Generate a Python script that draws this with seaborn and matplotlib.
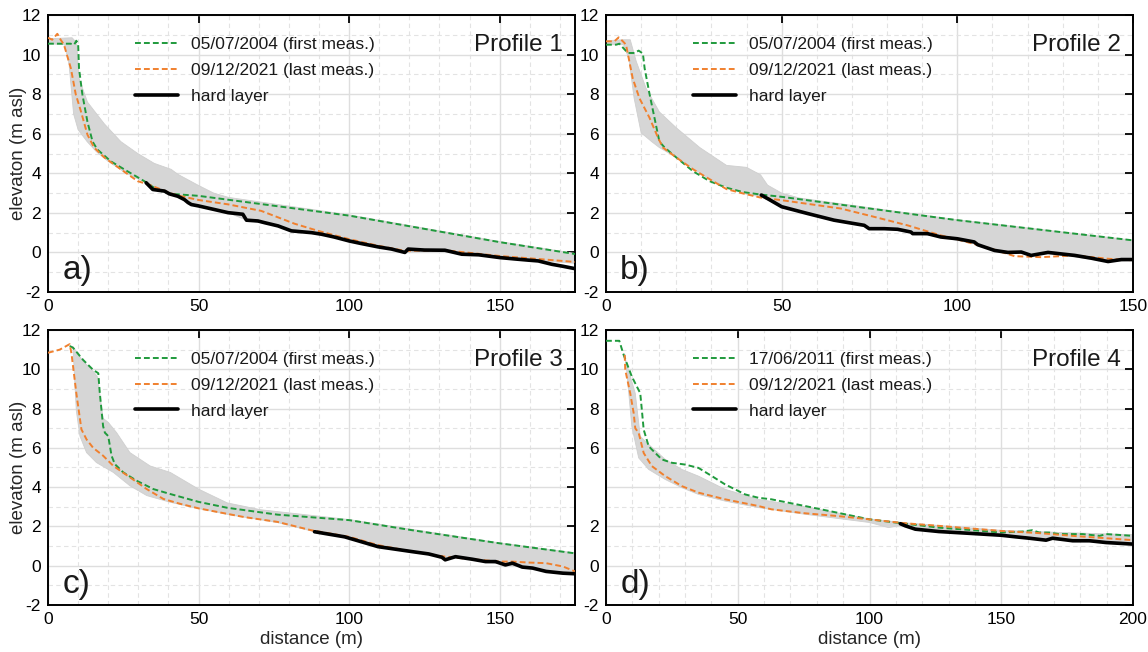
import numpy as np
import pandas as pd
import matplotlib
matplotlib.use("Agg")
import matplotlib.pyplot as plt
import seaborn as sns

# ---------------- data ----------------
# Profile 1
p1_first_x = [0, 7.5, 8.7, 9.4, 10.0, 10.3, 11.4, 13.1, 14.8, 16.4, 20.9, 26.4, 32, 36.4, 40.9, 50, 100, 131, 150, 175]
p1_first_y = [10.55, 10.55, 10.5, 10.7, 10.55, 9.3, 8.0, 6.6, 5.6, 5.2, 4.6, 4.1, 3.6, 3.15, 2.96, 2.86, 1.86, 1.03, 0.52, -0.08]
p1_last_x = [0, 1.4, 3.1, 4.2, 5.3, 7.6, 9.2, 10.9, 13.1, 15.3, 18.7, 24.2, 29.8, 33.1, 40.9, 43.1, 50, 59.8,
             70.8, 81.9, 89.7, 100, 109.6, 118.5, 131.8, 150, 175]
p1_last_y = [10.85, 10.75, 11.05, 10.75, 10.5, 9.3, 8.0, 7.15, 5.95, 5.3, 4.8, 4.2, 3.6, 3.45, 2.98, 2.88, 2.65, 2.43,
             2.1, 1.45, 1.09, 0.67, 0.34, 0.08, 0.11, -0.18, -0.48]
p1_hard_x = [32.6, 34.8, 38.7, 40.3, 43.1, 45.3, 46.5, 47.6, 50, 59.8, 64.7, 65.9, 69.7, 72, 76.4, 80.8, 87.5, 90.8,
             95, 100, 104, 109.6, 114.1, 118.5, 119.6, 125, 131.8, 137.4, 143, 150, 155, 159.5, 162.8, 167.3, 171, 175]
p1_hard_y = [3.52, 3.18, 3.1, 2.96, 2.84, 2.67, 2.52, 2.42, 2.35, 2.01, 1.93, 1.63, 1.59, 1.5, 1.34, 1.09, 1.0, 0.92,
             0.78, 0.58, 0.45, 0.28, 0.17, 0.0, 0.17, 0.12, 0.11, -0.09, -0.12, -0.26, -0.33, -0.39, -0.43, -0.6, -0.7, -0.82]
p1_up_x = [0, 8, 9.5, 10.3, 13.1, 18.7, 24.2, 29.8, 35.3, 40.9, 43.1, 49.8, 55, 60, 100, 150, 175]
p1_up_y = [10.8, 10.85, 10.6, 8.8, 7.6, 6.5, 5.6, 5.0, 4.5, 4.2, 3.95, 3.4, 3.0, 2.78, 1.9, 0.55, -0.05]
p1_lo_x = [0, 5.5, 7, 8.5, 10, 13, 16, 20, 26, 32.6, 40.3, 45.3, 50, 59.8, 65.9, 76.4, 87.5, 100, 109.6, 118.5,
           131.8, 150, 162.8, 175]
p1_lo_y = [10.55, 10.5, 9.5, 7.0, 6.2, 5.6, 5.1, 4.6, 4.0, 3.52, 2.96, 2.67, 2.35, 2.01, 1.63, 1.34, 1.0, 0.58, 0.28,
           0.0, 0.11, -0.22, -0.42, -0.55]

# Profile 2
p2_first_x = [0, 2.9, 3.8, 6.2, 8.1, 9.3, 10.5, 11, 12.4, 13.8, 15.2, 16.7, 20, 24.8, 29.5, 34.3, 39, 43.8, 50, 100, 150]
p2_first_y = [10.5, 10.5, 10.55, 10.08, 10.08, 10.2, 10.05, 9.3, 8.0, 6.8, 5.6, 5.3, 4.8, 4.1, 3.6, 3.27, 3.05, 2.93,
              2.81, 1.63, 0.61]
p2_last_x = [0, 2.4, 3.6, 4.8, 5.7, 7.6, 9.5, 12.4, 14.8, 16.2, 20, 24.8, 29.5, 34.3, 39, 43.8, 50, 66.8, 76.3, 85.8,
             95.3, 100, 109.6, 116.3, 123.9, 133.4, 142.9, 150]
p2_last_y = [10.67, 10.67, 10.87, 10.67, 10.5, 8.8, 7.8, 6.8, 5.8, 5.3, 4.8, 4.2, 3.7, 3.2, 2.98, 2.78, 2.64, 2.22, 1.8,
             1.37, 0.86, 0.66, 0.19, -0.19, -0.24, -0.15, -0.32, -0.4]
p2_hard_x = [44.2, 45.9, 50, 57.3, 64.9, 73.5, 74.9, 79.2, 83, 86.8, 87.3, 91.5, 95.3, 100, 104.8, 105.8, 110.6, 114.4,
             118.2, 121, 125.8, 133.4, 138.1, 142.9, 146.7, 150]
p2_hard_y = [2.9, 2.73, 2.31, 1.97, 1.63, 1.37, 1.2, 1.2, 1.17, 1.03, 0.95, 0.95, 0.78, 0.69, 0.53, 0.39, 0.1, 0.0,
             0.02, -0.15, 0.0, -0.15, -0.29, -0.46, -0.36, -0.36]
p2_up_x = [0, 5, 6.9, 8.6, 11.4, 15.2, 20, 26.7, 34.3, 40, 44, 46, 50, 55, 100, 150]
p2_up_y = [10.7, 10.75, 10.75, 9.66, 8.3, 7.1, 6.3, 5.3, 4.4, 4.3, 3.92, 3.4, 3.0, 2.75, 1.65, 0.62]
p2_lo_x = [0, 5, 6.5, 8, 10, 13, 15.2, 20, 29.5, 39, 44.2, 50, 64.9, 79.2, 95.3, 105.8, 114.4, 125.8, 142.9, 150]
p2_lo_y = [10.5, 10.5, 9.8, 7.8, 6.05, 5.6, 5.3, 4.8, 3.7, 2.98, 2.8, 2.31, 1.63, 1.2, 0.78, 0.39, 0.0, -0.05, -0.46, -0.4]

# Profile 3
p3_first_x = [7.2, 8.3, 11.7, 15, 16.7, 17.2, 18.3, 18.9, 20, 21.1, 22.2, 25, 29.4, 35, 40.6, 50, 59.5, 76.2, 100,
              120.8, 150, 175]
p3_first_y = [11.18, 11.1, 10.47, 9.97, 9.8, 8.79, 7.1, 6.77, 6.6, 5.6, 5.17, 4.75, 4.33, 3.9, 3.65, 3.25, 2.95, 2.6,
              2.32, 1.81, 1.14, 0.63]
p3_last_x = [0, 3.9, 7.2, 7.8, 9.4, 11.1, 12.8, 15, 18.3, 21.7, 27.2, 32.8, 38.3, 43.9, 50, 65, 76.2, 87.3, 100, 109.6,
             120.8, 131.9, 143, 150, 154.2, 159.8, 165.4, 171, 175]
p3_last_y = [10.84, 11.0, 11.28, 10.8, 8.79, 6.94, 6.43, 6.0, 5.6, 5.08, 4.5, 3.9, 3.4, 3.15, 2.92, 2.48, 2.23, 1.81,
             1.47, 1.05, 0.72, 0.46, 0.3, 0.21, 0.21, 0.16, 0.13, -0.04, -0.29]
p3_hard_x = [88.5, 98.5, 109.6, 120.8, 126.4, 130.8, 131.9, 135.3, 140.9, 145.3, 148.6, 151.9, 154.2, 157.5, 160.9,
             165.4, 171, 175]
p3_hard_y = [1.73, 1.47, 0.97, 0.72, 0.6, 0.43, 0.3, 0.46, 0.33, 0.21, 0.21, 0.04, 0.13, -0.07, -0.12, -0.29, -0.38, -0.41]
p3_up_x = [7.2, 8.3, 11.7, 15, 16.5, 17.5, 18.3, 20, 22.8, 27.2, 33.9, 40.6, 50, 59.5, 70.6, 100, 150, 175]
p3_up_y = [11.2, 11.15, 10.4, 9.9, 9.6, 8.4, 7.5, 7.3, 6.77, 5.76, 5.08, 4.75, 3.9, 3.2, 2.85, 2.35, 1.16, 0.65]
p3_lo_x = [7.2, 8.3, 9.4, 10.6, 12.8, 16.1, 21.7, 27.2, 32.8, 40.6, 49.4, 60, 76.2, 88.5, 98.5, 109.6, 120.8, 130.8,
           140.9, 151.9, 160.9, 171, 175]
p3_lo_y = [11.2, 11.1, 7.9, 6.6, 5.76, 5.25, 4.75, 4.07, 3.57, 3.23, 2.93, 2.6, 2.2, 1.73, 1.47, 0.97, 0.72, 0.43,
           0.33, 0.04, -0.12, -0.38, -0.41]

# Profile 4
p4_first_x = [0, 5.05, 6.7, 9.8, 13, 13.6, 14.3, 16.2, 18.7, 21.2, 25, 30, 35.1, 40.2, 45.2, 52.8, 57.8, 62.8, 75.5,
              87.8, 100, 113.6, 126.3, 139, 150, 158.1, 161.8, 164.4, 168.2, 171.9, 177.1, 180.9, 187.3, 189.8, 200]
p4_first_y = [11.45, 11.45, 10.73, 9.63, 8.78, 7.94, 6.93, 6.08, 5.74, 5.41, 5.24, 5.15, 4.98, 4.56, 4.14, 3.63, 3.46,
              3.38, 3.04, 2.7, 2.36, 2.14, 1.94, 1.81, 1.69, 1.74, 1.81, 1.69, 1.69, 1.61, 1.61, 1.61, 1.52, 1.61, 1.52]
p4_last_x = [7.1, 7.3, 9.2, 10.5, 11.1, 12.4, 14.3, 17.4, 22.5, 28.8, 35.1, 45.2, 57.8, 62.8, 75.5, 87.8, 100, 113.6,
             126.3, 139, 150, 164.4, 177.1, 189.8, 200]
p4_last_y = [10.73, 9.97, 8.78, 7.77, 7.0, 6.76, 5.74, 5.07, 4.56, 4.05, 3.72, 3.38, 3.04, 2.87, 2.67, 2.53, 2.36, 2.16,
             2.03, 1.89, 1.77, 1.66, 1.52, 1.4, 1.3]
p4_hard_x = [111.7, 113.6, 117.4, 126.3, 139, 150, 155.5, 160.6, 167, 169.5, 177.1, 183.5, 189.8, 200]
p4_hard_y = [2.14, 2.03, 1.86, 1.74, 1.64, 1.55, 1.47, 1.4, 1.3, 1.4, 1.27, 1.27, 1.18, 1.1]
p4_up_x = [6.7, 11.1, 13, 14.9, 22.5, 28.8, 35.1, 45.2, 57.8, 75.5, 100, 113.6, 150, 175, 200]
p4_up_y = [10.8, 8.78, 6.59, 6.33, 5.41, 4.9, 4.56, 3.89, 3.38, 3.0, 2.38, 2.18, 1.8, 1.68, 1.58]
p4_lo_x = [7.3, 9.8, 12.4, 16.2, 22.5, 28.8, 35.1, 45.2, 57.8, 75.5, 100, 107.2, 111.7, 117.4, 139, 160.6, 177.1, 200]
p4_lo_y = [10.73, 7.1, 5.49, 4.9, 4.39, 3.97, 3.63, 3.29, 2.96, 2.62, 2.2, 1.94, 2.05, 1.86, 1.64, 1.4, 1.27, 1.1]

profile_names = ["Profile 1", "Profile 2", "Profile 3", "Profile 4"]
panel_letters = ["a)", "b)", "c)", "d)"]
first_labels = ["05/07/2004 (first meas.)", "05/07/2004 (first meas.)",
                "05/07/2004 (first meas.)", "17/06/2011 (first meas.)"]
last_label = "09/12/2021 (last meas.)"
hard_label = "hard layer"
x_max = [175, 150, 175, 200]
y_tick_values = [-2, 0, 2, 4, 6, 8, 10, 12]
y_tick_labels_std = ["-2", "0", "2", "4", "6", "8", "10", "12"]
y_tick_labels_p4 = ["-2", "0", "2", "", "6", "8", "10", "12"]

panels = [
    (p1_first_x, p1_first_y, p1_last_x, p1_last_y, p1_hard_x, p1_hard_y, p1_up_x, p1_up_y, p1_lo_x, p1_lo_y),
    (p2_first_x, p2_first_y, p2_last_x, p2_last_y, p2_hard_x, p2_hard_y, p2_up_x, p2_up_y, p2_lo_x, p2_lo_y),
    (p3_first_x, p3_first_y, p3_last_x, p3_last_y, p3_hard_x, p3_hard_y, p3_up_x, p3_up_y, p3_lo_x, p3_lo_y),
    (p4_first_x, p4_first_y, p4_last_x, p4_last_y, p4_hard_x, p4_hard_y, p4_up_x, p4_up_y, p4_lo_x, p4_lo_y),
]

# ---------------- style ----------------
sns.set_theme(style="white")
plt.rcParams["font.family"] = ["Liberation Sans", "DejaVu Sans"]
plt.rcParams["axes.unicode_minus"] = False
plt.rcParams["text.color"] = "#1a1a1a"

GREEN = "#1f9a3c"
ORANGE = "#f0802e"
BAND = "#d6d6d6"

fig = plt.figure(figsize=(11.48, 6.52), dpi=100)
W, H = 1148, 652
boxes = [(48, 15, 575, 292), (606, 15, 1133, 292), (48, 330, 575, 605), (606, 330, 1133, 605)]

for i, (box, data) in enumerate(zip(boxes, panels)):
    l, t, r, b = box
    ax = fig.add_axes([l / W, 1 - b / H, (r - l) / W, (b - t) / H])
    fx, fy, lx, ly, hx, hy, ux, uy, lox, loy = data

    # band of all intermediate surveys (envelope polygon)
    poly_x = list(ux) + list(lox)[::-1]
    poly_y = list(uy) + list(loy)[::-1]
    ax.fill(poly_x, poly_y, color=BAND, lw=0.6, ec="#cfcfcf", zorder=1)

    df_first = pd.DataFrame({"x": fx, "y": fy})
    df_last = pd.DataFrame({"x": lx, "y": ly})
    df_hard = pd.DataFrame({"x": hx, "y": hy})
    sns.lineplot(data=df_first, x="x", y="y", ax=ax, color=GREEN, lw=1.4, sort=False,
                 estimator=None, label=first_labels[i], zorder=3)
    sns.lineplot(data=df_last, x="x", y="y", ax=ax, color=ORANGE, lw=1.4, sort=False,
                 estimator=None, label=last_label, zorder=4)
    sns.lineplot(data=df_hard, x="x", y="y", ax=ax, color="black", lw=2.6, sort=False,
                 estimator=None, label=hard_label, zorder=5)
    lines = ax.get_lines()
    lines[0].set_linestyle((0, (3, 1.6)))
    lines[1].set_linestyle((0, (3, 1.6)))

    ax.set_xlim(0, x_max[i])
    ax.set_ylim(-2, 12)
    ax.set_xticks(np.arange(0, x_max[i] + 1, 50))
    ax.set_xticks(np.arange(0, x_max[i] + 1, 10), minor=True)
    ax.set_yticks(y_tick_values)
    ax.set_yticklabels(y_tick_labels_p4 if i == 3 else y_tick_labels_std)
    ax.set_yticks(np.arange(-2, 12.1, 1), minor=True)
    ax.grid(which="major", color="#dedede", lw=1.0, ls="-", zorder=0)
    ax.grid(which="minor", color="#e3e3e3", lw=0.8, ls=(0, (4, 3)), zorder=0)
    ax.set_axisbelow(True)
    ax.tick_params(which="major", direction="in", length=6, width=1.3, top=True, right=True,
                   labelsize=12.5, colors="black", pad=5)
    ax.tick_params(which="minor", length=0)
    for s in ax.spines.values():
        s.set_color("black")
        s.set_linewidth(1.4)

    if i >= 2:
        ax.set_xlabel("distance (m)", fontsize=13.5, labelpad=3)
    else:
        ax.set_xlabel("")
    if i % 2 == 0:
        ax.set_ylabel("elevaton (m asl)", fontsize=13.5)
        ax.yaxis.set_label_coords(-0.040, 0.5)
    else:
        ax.set_ylabel("")

    leg = ax.legend(loc="upper left", bbox_to_anchor=(0.152, 0.947), frameon=False,
                    fontsize=12.5, handlelength=2.5, handletextpad=0.7, labelspacing=0.62,
                    borderaxespad=0)
    ax.text(0.977, 0.89, profile_names[i], transform=ax.transAxes, ha="right", va="center",
            fontsize=17.5)
    ax.text(0.027, 0.02, panel_letters[i], transform=ax.transAxes, ha="left", va="bottom",
            fontsize=24)

fig.savefig("out.png", dpi=100, facecolor="white")
